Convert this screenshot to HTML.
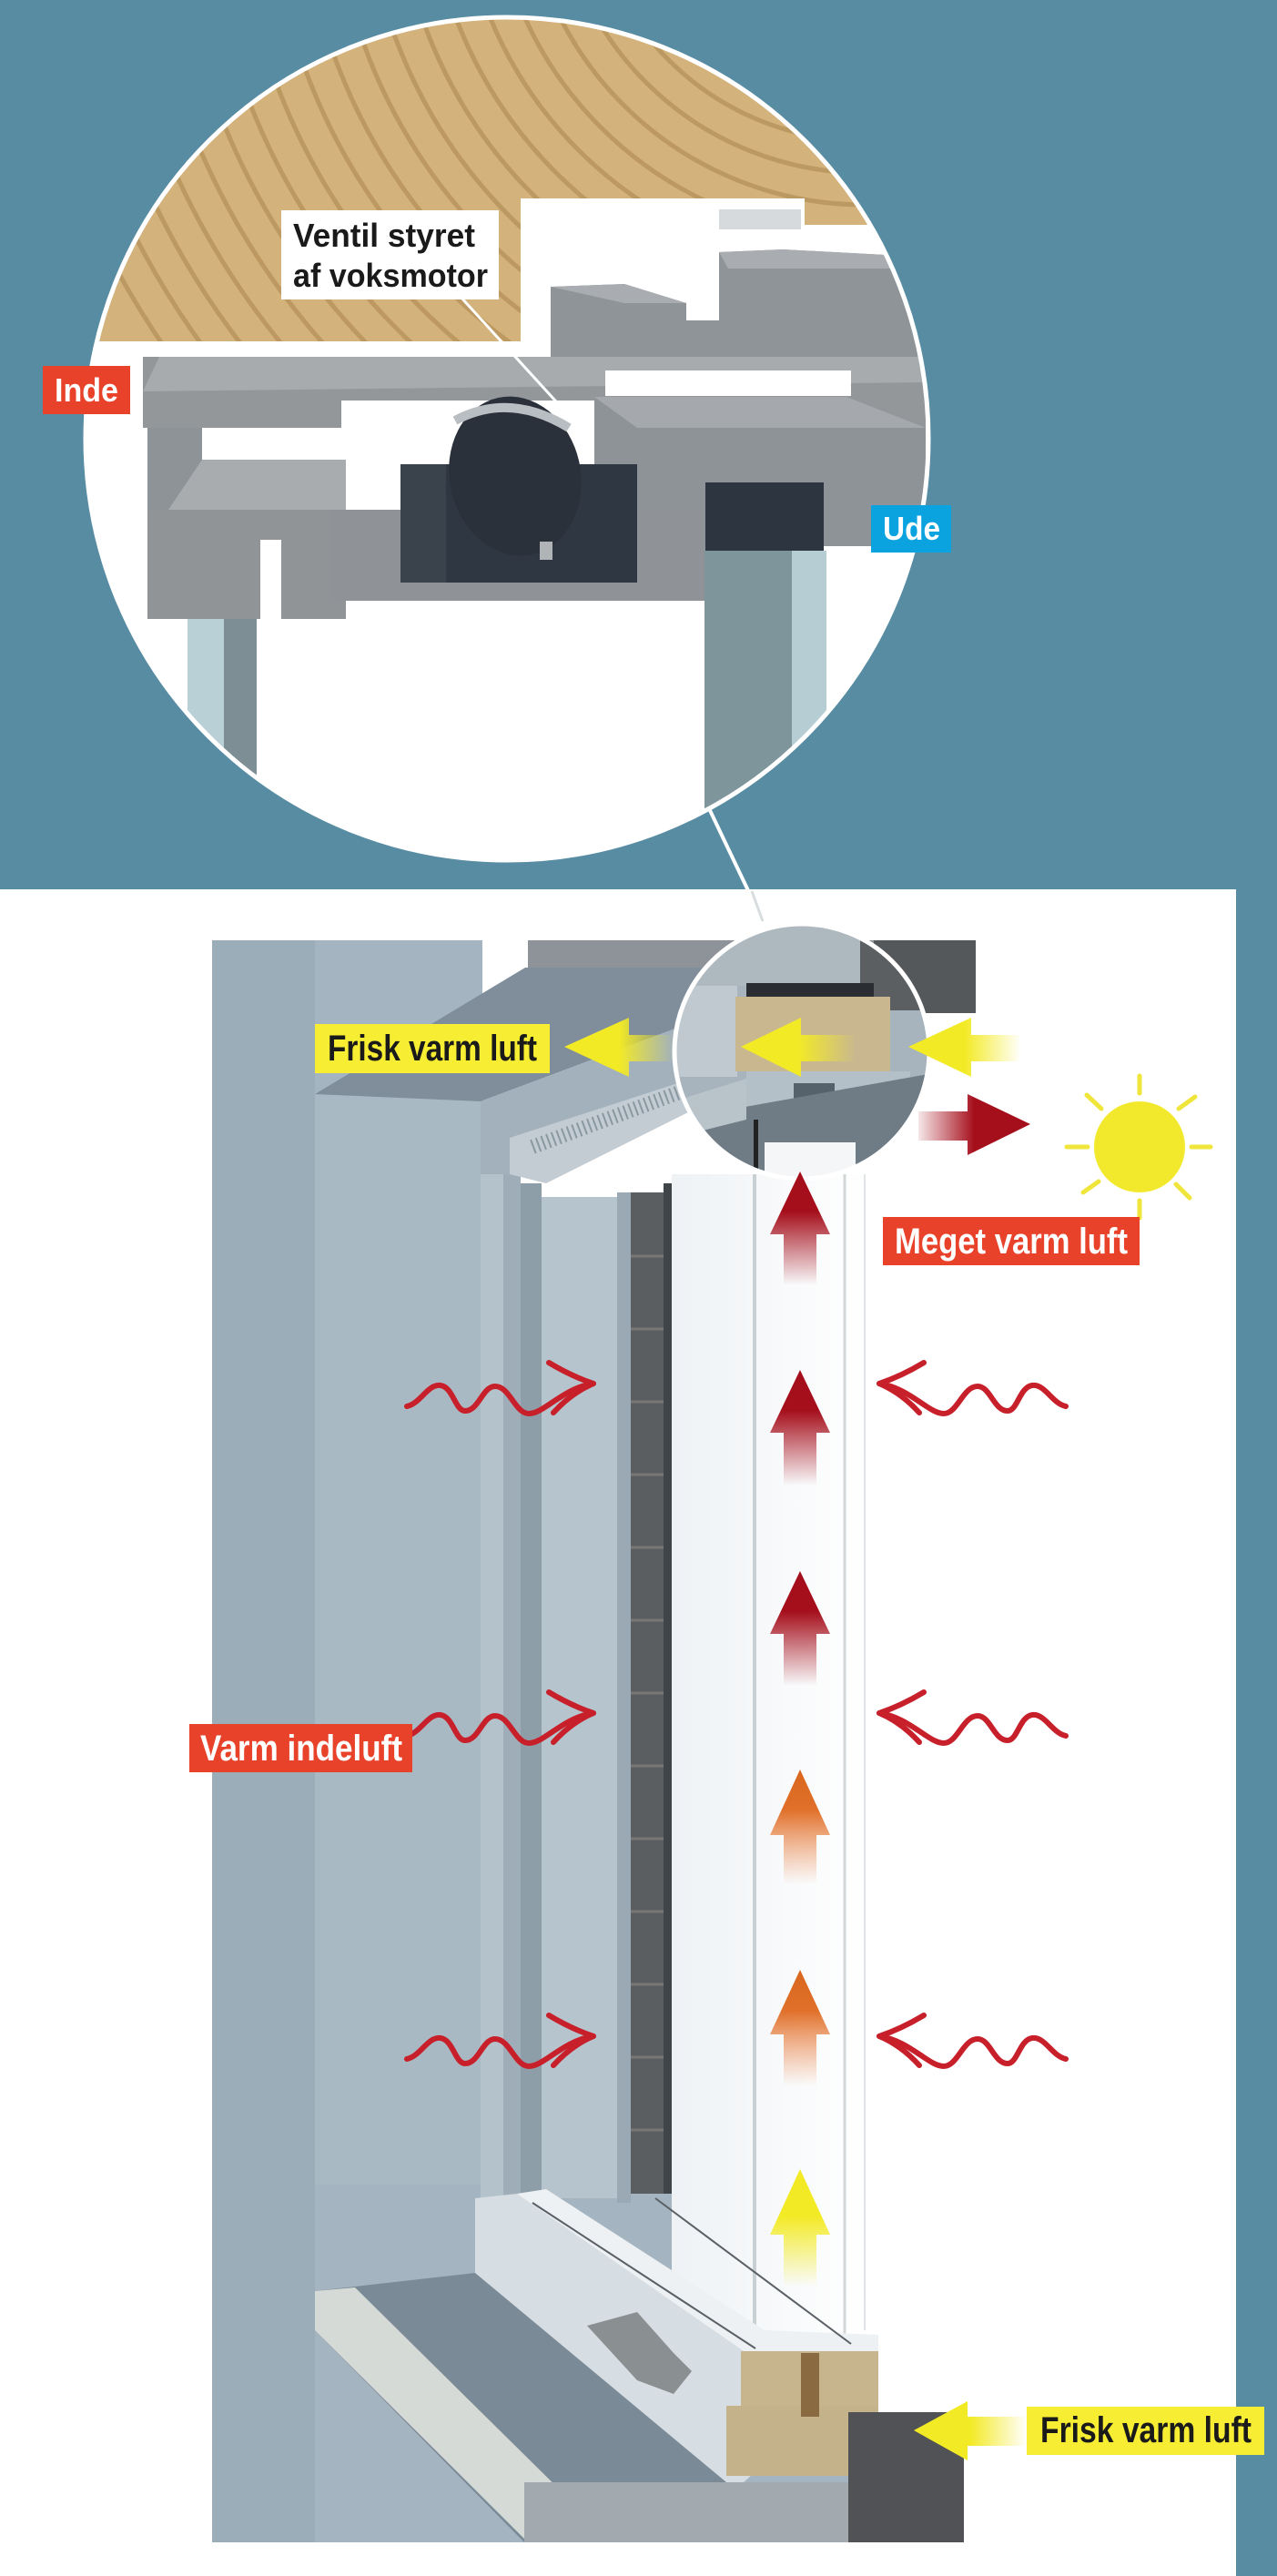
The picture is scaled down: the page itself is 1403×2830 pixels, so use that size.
<!DOCTYPE html>
<html><head><meta charset="utf-8"><style>
html,body{margin:0;padding:0;background:#578ca2;}
svg{display:block;}
text{font-family:"Liberation Sans",sans-serif;font-weight:bold;}
</style></head><body>
<svg width="1403" height="2830" viewBox="0 0 1403 2830" xmlns="http://www.w3.org/2000/svg">
<defs>
<clipPath id="bc"><circle cx="557" cy="482" r="461"/></clipPath>
<clipPath id="sc"><circle cx="881" cy="1155" r="139"/></clipPath>
<clipPath id="wc"><path d="M60,0 H1040 V247 H884 V218 H572 V375 H60 Z"/></clipPath>
<linearGradient id="fadeUpR" x1="0" y1="0" x2="0" y2="1"><stop offset="0" stop-color="#a50f1c"/><stop offset="0.35" stop-color="#a50f1c"/><stop offset="1" stop-color="#a50f1c" stop-opacity="0"/></linearGradient>
<linearGradient id="fadeUpO" x1="0" y1="0" x2="0" y2="1"><stop offset="0" stop-color="#d9661c"/><stop offset="0.35" stop-color="#e0702a"/><stop offset="1" stop-color="#f08a50" stop-opacity="0"/></linearGradient>
<linearGradient id="fadeUpY" x1="0" y1="0" x2="0" y2="1"><stop offset="0" stop-color="#f3ea26"/><stop offset="0.4" stop-color="#f3ea26"/><stop offset="1" stop-color="#f3ea26" stop-opacity="0"/></linearGradient>
<linearGradient id="fadeL" x1="0" y1="0" x2="1" y2="0"><stop offset="0" stop-color="#f3ea26"/><stop offset="0.5" stop-color="#f3ea26"/><stop offset="1" stop-color="#f3ea26" stop-opacity="0"/></linearGradient>
<linearGradient id="fadeR" x1="1" y1="0" x2="0" y2="0"><stop offset="0" stop-color="#a50f1c"/><stop offset="0.5" stop-color="#a50f1c"/><stop offset="1" stop-color="#a50f1c" stop-opacity="0.1"/></linearGradient>
<linearGradient id="gl" x1="0" y1="0" x2="1" y2="0"><stop offset="0" stop-color="#eef2f5"/><stop offset="1" stop-color="#ffffff"/></linearGradient>
</defs>

<rect x="0" y="0" width="1403" height="2830" fill="#578ca2"/>
<rect x="0" y="977" width="1358" height="1853" fill="#ffffff"/>

<line x1="777" y1="884" x2="838" y2="1012" stroke="#ffffff" stroke-width="4"/>
<line x1="826" y1="979" x2="838" y2="1012" stroke="#d8dde0" stroke-width="3"/>

<!-- BIG CIRCLE -->
<circle cx="557" cy="482" r="465" fill="#ffffff"/>
<g clip-path="url(#bc)">
  <rect x="90" y="20" width="940" height="930" fill="#ffffff"/>
  <path d="M60,0 H1040 V247 H884 V218 H572 V375 H60 Z" fill="#d3b27c"/>
  <g clip-path="url(#wc)" fill="none" stroke="#b48f57" stroke-width="5" opacity="0.7">
    <circle cx="950" cy="-150" r="200"/><circle cx="950" cy="-150" r="235"/>
    <circle cx="950" cy="-150" r="270"/><circle cx="950" cy="-150" r="305"/>
    <circle cx="950" cy="-150" r="340"/><circle cx="950" cy="-150" r="375"/>
    <circle cx="950" cy="-150" r="410"/><circle cx="950" cy="-150" r="445"/>
    <circle cx="950" cy="-150" r="480"/><circle cx="950" cy="-150" r="515"/>
    <circle cx="950" cy="-150" r="550"/><circle cx="950" cy="-150" r="585"/>
    <circle cx="950" cy="-150" r="620"/><circle cx="950" cy="-150" r="655"/>
    <circle cx="950" cy="-150" r="690"/><circle cx="950" cy="-150" r="725"/>
    <circle cx="950" cy="-150" r="760"/><circle cx="950" cy="-150" r="795"/>
    <circle cx="950" cy="-150" r="830"/><circle cx="950" cy="-150" r="865"/>
    <circle cx="950" cy="-150" r="900"/><circle cx="950" cy="-150" r="935"/>
  </g>
  <rect x="572" y="218" width="312" height="160" fill="#ffffff"/>
  <rect x="60" y="375" width="520" height="15" fill="#ffffff"/>
  <rect x="790" y="230" width="90" height="22" fill="#d6dadd"/>
  <path d="M605,315 L686,312 L754,333 L754,352 L790,352 L790,277 L860,274 L1010,282 L1010,405 L605,405 Z" fill="#8f9499"/>
  <path d="M605,315 L686,312 L754,333 L686,333 Z M790,277 L860,274 L1010,282 L1000,295 L800,295 Z" fill="#a9adb1"/>
  <rect x="157" y="392" width="860" height="78" fill="#939799"/>
  <path d="M175,392 L1017,392 L1017,420 L157,430 Z" fill="#a7abae"/>
  <rect x="665" y="407" width="270" height="28" fill="#ffffff"/>
  <rect x="375" y="440" width="280" height="30" fill="#ffffff"/>
  <path d="M653,436 L930,436 L1017,470 L1017,600 L905,600 L905,530 L775,530 L775,640 L653,640 Z" fill="#8e9397"/>
  <path d="M653,436 L930,436 L1017,470 L700,470 Z" fill="#a5a9ad"/>
  <rect x="775" y="530" width="130" height="75" fill="#2d3540"/>
  <rect x="162" y="470" width="60" height="210" fill="#8e9397"/>
  <rect x="222" y="470" width="158" height="35" fill="#ffffff"/>
  <path d="M222,505 L380,505 L380,560 L185,560 Z" fill="#a8acaf"/>
  <rect x="162" y="560" width="218" height="120" fill="#909497"/>
  <rect x="286" y="593" width="23" height="87" fill="#ffffff"/>
  <rect x="365" y="560" width="410" height="100" fill="#8f9397"/>
  <rect x="440" y="510" width="260" height="130" fill="#2f3742"/>
  <rect x="440" y="510" width="50" height="130" fill="#3a424c"/>
  <ellipse cx="566" cy="523" rx="72" ry="88" fill="#2a313b" transform="rotate(-12 566 523)"/>
  <path d="M500,462 Q560,430 625,470" fill="none" stroke="#b9bec2" stroke-width="10"/>
  <line x1="600" y1="595" x2="600" y2="615" stroke="#b0b4b7" stroke-width="14"/>
  <rect x="206" y="680" width="40" height="200" fill="#b8d0d6"/>
  <rect x="246" y="680" width="36" height="200" fill="#7d8e94"/>
  <rect x="774" y="605" width="96" height="300" fill="#7e959b"/>
  <rect x="870" y="605" width="38" height="300" fill="#b6ced3"/>
</g>
<circle cx="557" cy="482" r="463" fill="none" stroke="#ffffff" stroke-width="5"/>

<line x1="505" y1="325" x2="630" y2="462" stroke="#ffffff" stroke-width="3"/>
<rect x="309" y="231" width="239" height="98" fill="#ffffff"/>
<text x="322" y="271" font-size="36" fill="#1a1a1a" textLength="200" lengthAdjust="spacingAndGlyphs">Ventil styret</text>
<text x="322" y="315" font-size="36" fill="#1a1a1a" textLength="214" lengthAdjust="spacingAndGlyphs">af voksmotor</text>

<rect x="47" y="402" width="96" height="53" fill="#e8432a"/>
<text x="60" y="441" font-size="36" fill="#ffffff" textLength="70" lengthAdjust="spacingAndGlyphs">Inde</text>
<rect x="957" y="555" width="88" height="52" fill="#0aa3e0"/>
<text x="970" y="593" font-size="36" fill="#ffffff" textLength="63" lengthAdjust="spacingAndGlyphs">Ude</text>

<!-- WINDOW SCENE -->
<rect x="233" y="1033" width="297" height="1760" fill="#a4b4c0"/>
<rect x="233" y="1033" width="113" height="1760" fill="#9cadba"/>
<rect x="346" y="1200" width="184" height="1320" fill="#a9b9c4"/>
<rect x="346" y="2400" width="600" height="393" fill="#a4b4c0"/>
<rect x="528" y="1210" width="44" height="1230" fill="#b4c2cb"/>
<rect x="553" y="1280" width="19" height="1140" fill="#9eadb8"/>
<rect x="572" y="1300" width="23" height="1130" fill="#8e9ea9"/>
<rect x="595" y="1315" width="83" height="1100" fill="#b6c4cd"/>
<rect x="678" y="1310" width="15" height="1110" fill="#9aa9b3"/>
<rect x="693" y="1310" width="36" height="1100" fill="#5b5e61"/>
<g stroke="#777" stroke-width="3"><line x1="693" y1="1380" x2="729" y2="1380"/><line x1="693" y1="1460" x2="729" y2="1460"/><line x1="693" y1="1540" x2="729" y2="1540"/><line x1="693" y1="1620" x2="729" y2="1620"/><line x1="693" y1="1700" x2="729" y2="1700"/><line x1="693" y1="1780" x2="729" y2="1780"/><line x1="693" y1="1860" x2="729" y2="1860"/><line x1="693" y1="1940" x2="729" y2="1940"/><line x1="693" y1="2020" x2="729" y2="2020"/><line x1="693" y1="2100" x2="729" y2="2100"/><line x1="693" y1="2180" x2="729" y2="2180"/><line x1="693" y1="2260" x2="729" y2="2260"/><line x1="693" y1="2340" x2="729" y2="2340"/></g>
<rect x="729" y="1300" width="9" height="1110" fill="#3f4549"/>
<rect x="738" y="1290" width="214" height="1290" fill="url(#gl)"/>
<line x1="829" y1="1290" x2="829" y2="2580" stroke="#c9d0d4" stroke-width="4"/>
<line x1="928" y1="1290" x2="928" y2="2580" stroke="#d2d7da" stroke-width="3"/>
<line x1="950" y1="1290" x2="950" y2="2560" stroke="#e0e4e6" stroke-width="2"/>
<rect x="580" y="1033" width="492" height="32" fill="#8d9398"/>
<rect x="960" y="1033" width="112" height="80" fill="#55585b"/>
<path d="M346,1202 L577,1063 L980,1063 L980,1105 L742,1130 L528,1210 Z" fill="#7f8e9a"/>
<path d="M528,1210 L742,1130 L760,1165 L760,1200 L560,1290 L528,1290 Z" fill="#a2b1bc"/>
<path d="M560,1290 L560,1250 L760,1185 L780,1210 L600,1300 Z" fill="#c3ccd2"/>
<g stroke="#8a98a2" stroke-width="2"><path d="M585,1260 L760,1195" stroke-dasharray="2 4" stroke-width="16"/></g>
<circle cx="881" cy="1155" r="142" fill="#ffffff"/>
<g clip-path="url(#sc)">
  <rect x="730" y="1010" width="300" height="300" fill="#a7b4bd"/>
  <rect x="740" y="1010" width="210" height="73" fill="#aeb8bf"/>
  <rect x="945" y="1010" width="90" height="100" fill="#5c5f62"/>
  <rect x="820" y="1080" width="140" height="16" fill="#2a2e33"/>
  <rect x="740" y="1083" width="70" height="100" fill="#c0c9cf"/>
  <rect x="808" y="1095" width="170" height="82" fill="#c9b88f"/>
  <rect x="820" y="1177" width="180" height="55" fill="#b4c0c8"/>
  <rect x="872" y="1190" width="45" height="38" fill="#56626b"/>
  <path d="M740,1230 L1020,1180 L1020,1310 L740,1310 Z" fill="#6f7c86"/>
  <path d="M740,1210 L820,1185 L820,1230 L740,1250 Z" fill="#b8c3ca"/>
  <rect x="828" y="1230" width="5" height="80" fill="#222"/>
  <rect x="840" y="1255" width="100" height="60" fill="#f4f6f7"/>
</g>
<circle cx="881" cy="1155" r="140" fill="none" stroke="#ffffff" stroke-width="5"/>

<!-- bottom -->
<path d="M346,2517 L522,2497 L820,2740 L820,2793 L576,2793 L346,2560 Z" fill="#7a8a96"/>
<path d="M346,2517 L390,2513 L640,2760 L580,2793 L346,2560 Z" fill="#d6dad6"/>
<path d="M522,2415 L568,2410 L820,2560 L965,2580 L965,2590 L814,2730 L798,2727 L522,2497 Z" fill="#d6dde3"/>
<path d="M568,2410 L600,2405 L840,2560 L965,2565 L965,2585 L820,2585 Z" fill="#eef1f3"/>
<line x1="585" y1="2420" x2="830" y2="2580" stroke="#5a6066" stroke-width="2"/>
<line x1="720" y1="2415" x2="935" y2="2575" stroke="#5a6066" stroke-width="2"/>
<path d="M645,2555 L700,2540 L740,2585 L760,2605 L740,2630 L700,2615 Z" fill="#8a8f92"/>
<rect x="814" y="2583" width="151" height="60" fill="#c6b58d"/>
<rect x="798" y="2643" width="167" height="77" fill="#c3b28a"/>
<rect x="880" y="2585" width="20" height="70" fill="#8a6a40"/>
<rect x="932" y="2650" width="127" height="143" fill="#505255"/>
<rect x="576" y="2727" width="356" height="66" fill="#a3aaaf"/>

<path d="M879,1287 L912,1356 L897,1356 L897,1412 L861,1412 L861,1356 L846,1356 Z" fill="url(#fadeUpR)"/>
<path d="M879,1505 L912,1574 L897,1574 L897,1632 L861,1632 L861,1574 L846,1574 Z" fill="url(#fadeUpR)"/>
<path d="M879,1726 L912,1795 L897,1795 L897,1852 L861,1852 L861,1795 L846,1795 Z" fill="url(#fadeUpR)"/>
<path d="M879,1944 L912,2016 L897,2016 L897,2070 L861,2070 L861,2016 L846,2016 Z" fill="url(#fadeUpO)"/>
<path d="M879,2164 L912,2235 L897,2235 L897,2292 L861,2292 L861,2235 L846,2235 Z" fill="url(#fadeUpO)"/>
<path d="M879,2383 L912,2455 L897,2455 L897,2512 L861,2512 L861,2455 L846,2455 Z" fill="url(#fadeUpY)"/>

<path d="M620,1150 L691,1118 L691,1137 L740,1137 L740,1166 L691,1166 L691,1183 Z" fill="url(#fadeL)"/>
<path d="M814,1150 L880,1118 L880,1137 L940,1137 L940,1166 L880,1166 L880,1183 Z" fill="url(#fadeL)"/>
<path d="M998,1150 L1067,1118 L1067,1137 L1122,1137 L1122,1166 L1067,1166 L1067,1183 Z" fill="url(#fadeL)"/>
<path d="M1004,2670 L1063,2638 L1063,2655 L1128,2655 L1128,2687 L1063,2687 L1063,2703 Z" fill="url(#fadeL)"/>
<path d="M1132,1235 L1063,1202 L1063,1221 L1009,1221 L1009,1253 L1063,1253 L1063,1269 Z" fill="url(#fadeR)"/>

<circle cx="1252" cy="1260" r="50" fill="#f3e92c"/>
<g stroke="#f0e53a" stroke-width="5" stroke-linecap="round">
<line x1="1252" y1="1182" x2="1252" y2="1201"/><line x1="1252" y1="1319" x2="1252" y2="1338"/>
<line x1="1172" y1="1260" x2="1195" y2="1260"/><line x1="1309" y1="1260" x2="1330" y2="1260"/>
<line x1="1194" y1="1203" x2="1210" y2="1218"/><line x1="1295" y1="1218" x2="1313" y2="1205"/>
<line x1="1190" y1="1310" x2="1207" y2="1298"/><line x1="1292" y1="1301" x2="1307" y2="1316"/>
</g>

<g id="w1" fill="none" stroke="#c8202a" stroke-width="6" stroke-linecap="round" stroke-linejoin="round">
<path d="M447,1545 C462,1542 470,1520 484,1522 C498,1524 500,1550 511,1550 C526,1550 530,1523 544,1523 C560,1523 566,1553 581,1553 C598,1553 618,1525 652,1520"/>
<path d="M603,1497 Q628,1512 652,1520 Q628,1530 608,1552"/>
</g>
<use href="#w1" transform="translate(0,362)"/>
<use href="#w1" transform="translate(0,717)"/>
<g transform="translate(1618,0) scale(-1,1)">
<use href="#w1"/>
<use href="#w1" transform="translate(0,362)"/>
<use href="#w1" transform="translate(0,717)"/>
</g>

<rect x="346" y="1125" width="258" height="54" fill="#f7ee33"/>
<text x="360" y="1165" font-size="40" fill="#1a1a1a" textLength="230" lengthAdjust="spacingAndGlyphs">Frisk varm luft</text>
<rect x="970" y="1337" width="282" height="53" fill="#e8432a"/>
<text x="983" y="1377" font-size="40" fill="#ffffff" textLength="256" lengthAdjust="spacingAndGlyphs">Meget varm luft</text>
<rect x="208" y="1894" width="245" height="53" fill="#e8432a"/>
<text x="220" y="1934" font-size="40" fill="#ffffff" textLength="222" lengthAdjust="spacingAndGlyphs">Varm indeluft</text>
<rect x="1128" y="2644" width="261" height="53" fill="#f7ee33"/>
<text x="1143" y="2683" font-size="40" fill="#1a1a1a" textLength="232" lengthAdjust="spacingAndGlyphs">Frisk varm luft</text>
</svg>
</body></html>
